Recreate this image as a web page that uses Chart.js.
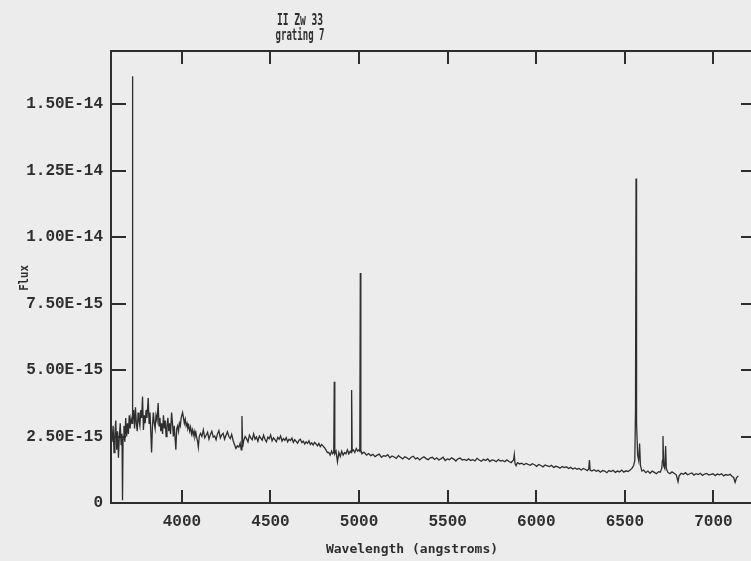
<!DOCTYPE html>
<html>
<head>
<meta charset="utf-8">
<script src="https://cdn.jsdelivr.net/npm/chart.js@4.4.1/dist/chart.umd.min.js"></script>
<style>
  html, body { margin: 0; padding: 0; background: #ececec; overflow: hidden; }
  #wrap { position: relative; width: 751px; height: 561px; overflow: hidden; }
  #spectrum { position: absolute; left: 0; top: 0; }
</style>
</head>
<body>
<div id="wrap"><canvas id="spectrum" width="770" height="561"></canvas></div>
<script>
// flux is in units of 1e-15 (erg/s/cm2/A), wavelength in angstroms
const FLUX_UNIT = 1e-15;

const xTicks = [4000, 4500, 5000, 5500, 6000, 6500, 7000];
const yTicks = [0, 2.5, 5, 7.5, 10, 12.5, 15];

const wavelengths = [
    3606, 3612, 3617, 3622, 3627, 3632, 3637, 3642, 3647, 3652, 3657, 3662, 3665, 3668, 3673, 3678,
    3683, 3688, 3693, 3698, 3703, 3708, 3713, 3719, 3721, 3723, 3728, 3733, 3738, 3743, 3748, 3753,
    3758, 3763, 3768, 3773, 3778, 3783, 3788, 3793, 3798, 3803, 3810, 3815, 3820, 3825, 3829, 3834,
    3839, 3844, 3849, 3854, 3860, 3866, 3871, 3876, 3881, 3886, 3891, 3896, 3901, 3906, 3911, 3916,
    3921, 3926, 3931, 3936, 3942, 3947, 3952, 3957, 3962, 3966, 3971, 3976, 3981, 3986, 3991, 3996,
    4004, 4009, 4014, 4019, 4024, 4029, 4034, 4039, 4044, 4049, 4054, 4059, 4064, 4069, 4074, 4079,
    4084, 4089, 4093, 4098, 4105, 4113, 4121, 4129, 4137, 4145, 4153, 4161, 4169, 4177, 4185, 4193,
    4201, 4209, 4217, 4225, 4233, 4241, 4249, 4257, 4265, 4273, 4281, 4289, 4297, 4305, 4313, 4321,
    4329, 4335, 4339, 4343, 4349, 4357, 4365, 4373, 4381, 4389, 4397, 4405, 4413, 4421, 4429, 4437,
    4445, 4453, 4461, 4469, 4477, 4485, 4493, 4501, 4509, 4517, 4525, 4533, 4541, 4549, 4557, 4565,
    4573, 4581, 4589, 4597, 4605, 4613, 4621, 4629, 4637, 4645, 4653, 4661, 4669, 4677, 4685, 4693,
    4701, 4709, 4717, 4725, 4733, 4741, 4749, 4757, 4765, 4773, 4781, 4789, 4797, 4805, 4813, 4821,
    4829, 4837, 4845, 4851, 4857, 4860, 4863, 4870, 4878, 4886, 4894, 4902, 4910, 4918, 4926, 4934,
    4942, 4950, 4955, 4958, 4961, 4968, 4976, 4984, 4992, 4999, 5004, 5007, 5010, 5016, 5024, 5030,
    5042, 5054, 5066, 5078, 5090, 5102, 5114, 5126, 5138, 5150, 5162, 5174, 5186, 5198, 5210, 5222,
    5234, 5246, 5258, 5270, 5282, 5294, 5306, 5318, 5330, 5342, 5354, 5366, 5378, 5390, 5402, 5414,
    5426, 5438, 5450, 5462, 5474, 5486, 5498, 5510, 5522, 5534, 5546, 5558, 5570, 5582, 5594, 5606,
    5618, 5630, 5642, 5654, 5666, 5678, 5690, 5702, 5714, 5726, 5738, 5750, 5762, 5774, 5786, 5798,
    5810, 5822, 5834, 5846, 5858, 5866, 5872, 5876, 5880, 5886, 5894, 5906, 5918, 5930, 5942, 5954,
    5966, 5978, 5990, 6002, 6014, 6026, 6038, 6050, 6062, 6074, 6086, 6098, 6110, 6122, 6134, 6146,
    6158, 6170, 6182, 6194, 6206, 6218, 6230, 6242, 6254, 6266, 6278, 6288, 6296, 6300, 6304, 6314,
    6326, 6338, 6350, 6362, 6374, 6386, 6398, 6410, 6422, 6434, 6446, 6458, 6470, 6482, 6494, 6506,
    6518, 6530, 6540, 6550, 6556, 6560, 6563, 6566, 6572, 6578, 6583, 6588, 6596, 6606, 6618, 6630,
    6642, 6654, 6666, 6678, 6690, 6700, 6708, 6712, 6715, 6719, 6725, 6730, 6734, 6742, 6754, 6766,
    6778, 6790, 6800, 6806, 6818, 6830, 6842, 6854, 6866, 6878, 6890, 6902, 6914, 6926, 6938, 6950,
    6962, 6974, 6986, 6998, 7010, 7022, 7034, 7046, 7058, 7070, 7082, 7094, 7106, 7114, 7122, 7130,
    7140
];

const flux = [
    2.3, 2.9, 1.9, 2.6, 3.1, 2.0, 2.7, 1.7, 2.5, 3.0, 2.2, 2.6, 0.1, 2.4, 2.9, 2.3,
    3.2, 2.5, 3.0, 2.6, 3.3, 2.8, 3.2, 3.0, 16.05, 3.1, 3.5, 2.8, 3.6, 3.0, 2.7, 3.4,
    3.1, 2.9, 3.5, 3.2, 4.0, 2.75, 3.3, 3.0, 3.5, 3.2, 3.95, 3.0, 3.4, 2.6, 1.9, 2.9,
    3.4, 3.0, 2.8, 3.3, 3.1, 3.76, 2.9, 3.2, 2.7, 3.0, 2.6, 3.3, 2.8, 3.1, 2.5, 2.9,
    3.2, 2.7, 3.0, 2.6, 3.4, 3.0, 2.5, 2.9, 2.4, 2.0, 2.8, 2.9, 2.7, 3.0, 2.9, 3.2,
    3.4, 3.2, 3.0, 3.15, 2.9, 3.0, 2.8, 2.9, 2.7, 2.85, 2.6, 2.75, 2.55, 2.7, 2.5, 2.65,
    2.45, 2.3, 2.1, 2.5, 2.62, 2.5, 2.75, 2.45, 2.55, 2.66, 2.4, 2.58, 2.7, 2.48, 2.52, 2.38,
    2.6, 2.72, 2.45, 2.56, 2.62, 2.4, 2.55, 2.68, 2.5, 2.42, 2.58, 2.35, 2.2, 2.05, 2.15, 2.1,
    2.25, 2.0, 3.27, 2.1, 2.35, 2.5, 2.42, 2.3, 2.55, 2.45, 2.38, 2.6, 2.4, 2.48, 2.32, 2.52,
    2.44, 2.36, 2.55, 2.4, 2.3, 2.48, 2.42, 2.56, 2.34, 2.45, 2.38, 2.3, 2.47, 2.4, 2.52, 2.33,
    2.42, 2.36, 2.46, 2.3, 2.4, 2.35, 2.44, 2.28, 2.38, 2.32, 2.25, 2.36, 2.4, 2.27, 2.33, 2.22,
    2.3, 2.24, 2.34, 2.2, 2.26, 2.18, 2.28, 2.22, 2.15, 2.24, 2.12, 2.2, 2.14, 2.08, 2.0, 1.9,
    1.9, 1.8, 1.95, 1.85, 1.9, 4.56, 1.85, 1.95, 1.55, 1.9, 1.75, 1.95, 1.8, 1.9, 1.85, 2.0,
    1.85, 1.95, 1.9, 4.25, 1.95, 2.0, 1.9, 2.05, 1.95, 2.0, 1.95, 8.65, 2.0, 1.85, 1.9, 1.9,
    1.8, 1.86, 1.78, 1.83, 1.74, 1.8, 1.84, 1.72, 1.78, 1.76, 1.82, 1.7, 1.77, 1.73, 1.68, 1.78,
    1.72, 1.66, 1.74, 1.7, 1.64, 1.72, 1.76, 1.66, 1.7, 1.62, 1.69, 1.74, 1.67, 1.63, 1.7, 1.72,
    1.64, 1.7, 1.62, 1.66, 1.72, 1.6, 1.66, 1.63, 1.7, 1.65, 1.58, 1.66, 1.69, 1.62, 1.64, 1.6,
    1.66, 1.6, 1.63, 1.58, 1.68, 1.62, 1.57, 1.64, 1.6, 1.66, 1.56, 1.62, 1.6, 1.55, 1.63, 1.58,
    1.6, 1.55, 1.62, 1.56, 1.52, 1.58, 1.62, 1.82, 1.48, 1.4, 1.52, 1.47, 1.5, 1.44, 1.49, 1.45,
    1.42, 1.48, 1.44, 1.38, 1.45, 1.41, 1.36, 1.43, 1.4, 1.37, 1.42, 1.34, 1.38, 1.36, 1.31, 1.37,
    1.33, 1.36, 1.3, 1.34, 1.28, 1.32, 1.27, 1.3, 1.24, 1.3, 1.26, 1.22, 1.28, 1.62, 1.24, 1.2,
    1.25, 1.19, 1.23, 1.16, 1.22, 1.2, 1.14, 1.22, 1.18, 1.23, 1.15, 1.2, 1.17, 1.24, 1.16, 1.21,
    1.18, 1.24, 1.3, 1.42, 1.6, 3.5, 12.2, 3.0, 1.8, 1.6, 2.24, 1.4, 1.2, 1.24, 1.14, 1.2,
    1.12, 1.2, 1.15, 1.1, 1.18, 1.16, 1.3, 1.6, 2.52, 1.4, 1.3, 2.14, 1.3, 1.16, 1.1, 1.17,
    1.12, 1.06, 0.8, 1.02, 1.12, 1.08, 1.14, 1.06, 1.1, 1.13, 1.05, 1.1, 1.07, 1.12, 1.04, 1.09,
    1.11, 1.05, 1.08, 1.1, 1.03, 1.09, 1.06, 1.1, 1.02, 1.07, 1.04, 1.08, 1.0, 0.96, 0.78, 0.95,
    1.02
];

const INK = '#2e2e2e';

/**
 * Plot frame on all four sides with inward pointing tick marks
 */
const framePlugin = {
    id: 'frame',
    afterDatasetsDraw(chart) {
        const { ctx, chartArea: a, scales: { x, y } } = chart;
        ctx.save();
        ctx.strokeStyle = INK;
        ctx.lineWidth = 2;
        ctx.strokeRect(a.left, a.top, a.right - a.left, a.bottom - a.top);
        ctx.beginPath();
        for (const t of x.ticks) {
            const px = Math.round(x.getPixelForValue(t.value));
            ctx.moveTo(px, a.bottom);
            ctx.lineTo(px, a.bottom - 13);
            ctx.moveTo(px, a.top);
            ctx.lineTo(px, a.top + 13);
        }
        for (const t of y.ticks) {
            const py = Math.round(y.getPixelForValue(t.value));
            ctx.moveTo(a.left, py);
            ctx.lineTo(a.left + 15, py);
            ctx.moveTo(a.right, py);
            ctx.lineTo(a.right - 15, py);
        }
        ctx.stroke();
        ctx.restore();
    }
};

/**
 * Plotter style texts: title lines and axis titles
 */
const labelPlugin = {
    id: 'labels',
    afterDraw(chart) {
        const ctx = chart.ctx;

        function text(str, x, y, size, scaleX, angle) {
            ctx.save();
            ctx.translate(x, y);
            ctx.rotate(angle || 0);
            ctx.scale(scaleX, 1);
            ctx.font = `bold ${size}px "DejaVu Sans Mono", monospace`;
            ctx.fillStyle = INK;
            ctx.textAlign = 'center';
            ctx.textBaseline = 'alphabetic';
            ctx.fillText(str, 0, 0);
            ctx.restore();
        }

        text('II Zw 33', 300, 25, 15, 0.64);
        text('grating 7', 300, 40, 15, 0.6);
        text('Wavelength (angstroms)', 412, 553, 13, 1.0);
        text('Flux', 28, 278, 13, 0.82, -Math.PI / 2);
    }
};

function formatFlux(value) {
    if (value === 0) {
        return '0';
    }
    return (value * FLUX_UNIT).toExponential(2).toUpperCase();
}

window.addEventListener('load', () => {
    new Chart(document.getElementById('spectrum'), {
        type: 'line',
        data: {
            datasets: [{
                label: 'II Zw 33',
                data: wavelengths.map((w, i) => ({ x: w, y: flux[i] })),
                borderColor: INK,
                borderWidth: 1.3,
                pointRadius: 0,
                tension: 0,
                fill: false
            }]
        },
        options: {
            responsive: false,
            animation: false,
            events: [],
            layout: {
                padding: { left: 0, top: 51, right: 14, bottom: 0 }
            },
            plugins: {
                legend: { display: false },
                title: { display: false },
                tooltip: { enabled: false }
            },
            scales: {
                x: {
                    type: 'linear',
                    min: 3600,
                    max: 7240,
                    grid: { display: false, drawTicks: false },
                    border: { display: false },
                    afterBuildTicks: scale => {
                        scale.ticks = xTicks.map(v => ({ value: v }));
                    },
                    afterFit: scale => {
                        scale.height = 58;
                    },
                    ticks: {
                        padding: 9,
                        maxRotation: 0,
                        color: INK,
                        font: { family: '"Liberation Mono", monospace', size: 16, weight: 'bold' },
                        callback: value => String(value)
                    }
                },
                y: {
                    type: 'linear',
                    min: 0,
                    max: 17,
                    grid: { display: false, drawTicks: false },
                    border: { display: false },
                    afterBuildTicks: scale => {
                        scale.ticks = yTicks.map(v => ({ value: v }));
                    },
                    afterFit: scale => {
                        scale.width = 111;
                    },
                    ticks: {
                        padding: 8,
                        color: INK,
                        font: { family: '"Liberation Mono", monospace', size: 16, weight: 'bold' },
                        callback: value => formatFlux(value)
                    }
                }
            }
        },
        plugins: [framePlugin, labelPlugin]
    });
});
</script>
</body>
</html>
